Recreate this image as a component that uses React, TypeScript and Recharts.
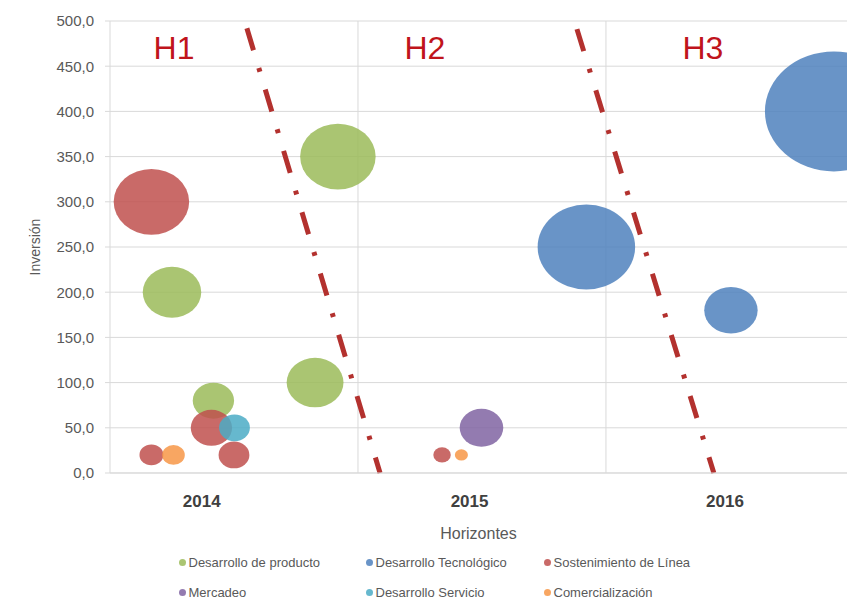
import React from 'react';
import {
  ScatterChart,
  Scatter,
  XAxis,
  YAxis,
  ZAxis,
  CartesianGrid,
  ReferenceLine,
  ReferenceDot,
  Legend,
} from 'recharts';

const FONT = '"Liberation Sans", Arial, sans-serif';

// ---- data ----
const yearLabels = ['2014', '2015', '2016'];
const yearTickPositions = [0.37, 1.45, 2.48];
const horizonBoundaries = [1, 2];
const horizonLabels = ['H1', 'H2', 'H3'];
const horizonLabelX = [0.258, 1.27, 2.391];
const horizonLabelY = 471;
const yTicks = [0, 50, 100, 150, 200, 250, 300, 350, 400, 450, 500];

const desarrolloProducto = [
  { x: 0.25, y: 200, z: 18 },
  { x: 0.417, y: 80, z: 9 },
  { x: 0.827, y: 100, z: 17 },
  { x: 0.919, y: 350, z: 30 },
];
const desarrolloTecnologico = [
  { x: 1.921, y: 250, z: 50 },
  { x: 2.504, y: 180, z: 15 },
  { x: 2.919, y: 400, z: 100 },
];
const sostenimientoLinea = [
  { x: 0.167, y: 300, z: 30 },
  { x: 0.167, y: 20, z: 3 },
  { x: 0.409, y: 50, z: 9 },
  { x: 0.5, y: 20, z: 5 },
  { x: 1.339, y: 20, z: 1.6 },
];
const mercadeo = [{ x: 1.498, y: 50, z: 10 }];
const desarrolloServicio = [{ x: 0.502, y: 50, z: 5 }];
const comercializacion = [
  { x: 0.256, y: 20, z: 2.7 },
  { x: 1.417, y: 20, z: 0.9 },
];

const dividerLines = [
  [{ x: 0.552, y: 492 }, { x: 1.089, y: 0 }],
  [{ x: 1.883, y: 491 }, { x: 2.435, y: 0 }],
];

const series = [
  { name: 'Desarrollo de producto', color: '#9BBB59', data: desarrolloProducto },
  { name: 'Desarrollo Tecnológico', color: '#4F81BD', data: desarrolloTecnologico },
  { name: 'Sostenimiento de Línea', color: '#C0504D', data: sostenimientoLinea },
  { name: 'Mercadeo', color: '#8064A2', data: mercadeo },
  { name: 'Desarrollo Servicio', color: '#4BACC6', data: desarrolloServicio },
  { name: 'Comercialización', color: '#F79646', data: comercializacion },
];

// ---- styling ----
const STRETCH = 1.072;
const MAX_R = 64.3;
const legendColumnX = [182, 369, 547];

const makeBubble = (color: string) => (props: any) => {
  const { cx, cy } = props;
  const r =
    typeof props.width === 'number' && props.width > 0
      ? props.width / 2
      : Math.sqrt(Math.max(props.size || 0, 0) / Math.PI);
  return (
    <ellipse
      cx={cx}
      cy={cy}
      rx={r * STRETCH}
      ry={r / STRETCH}
      fill={color}
      fillOpacity={0.85}
    />
  );
};

const YTitle = (props: any) => {
  const vb = props.viewBox || {};
  const x = 35;
  const y = vb.height ? vb.y + vb.height / 2 : 247;
  return (
    <text
      x={x}
      y={y}
      transform={`rotate(-90, ${x}, ${y})`}
      textAnchor="middle"
      dominantBaseline="central"
      fill="#595959"
      fontSize={14}
      fontFamily={FONT}
    >
      Inversión
    </text>
  );
};

const LegendContent = () => (
  <div
    style={{
      position: 'relative',
      width: 847,
      height: 60,
      fontFamily: FONT,
      fontSize: 13,
      color: '#595959',
    }}
  >
    {series.map((s, i) => (
      <div
        key={s.name}
        style={{
          position: 'absolute',
          left: legendColumnX[i % 3] - 3.5,
          top: Math.floor(i / 3) * 30,
          height: 16,
          display: 'flex',
          alignItems: 'center',
          whiteSpace: 'nowrap',
        }}
      >
        <span
          style={{
            display: 'inline-block',
            width: 7,
            height: 7,
            borderRadius: '50%',
            background: s.color,
            opacity: 0.85,
            marginRight: 3,
          }}
        />
        {s.name}
      </div>
    ))}
  </div>
);

export default function App() {
  return (
    <div
      style={{
        position: 'absolute',
        left: 0,
        top: 0,
        width: 847,
        height: 599,
        background: '#ffffff',
      }}
    >
      <ScatterChart
        width={847}
        height={599}
        margin={{ top: 21, right: 0, bottom: 86, left: 0 }}
      >
        <CartesianGrid vertical={false} stroke="#D9D9D9" />
        <XAxis
          type="number"
          dataKey="x"
          domain={[0, 2.972]}
          ticks={yearTickPositions}
          tickFormatter={(_v: number, i: number) => yearLabels[i]}
          height={40}
          tickLine={false}
          tickMargin={16}
          axisLine={{ stroke: '#D9D9D9' }}
          tick={{ fill: '#404040', fontSize: 17, fontWeight: 'bold', fontFamily: FONT }}
          label={{
            value: 'Horizontes',
            position: 'bottom',
            offset: 15,
            fill: '#595959',
            fontSize: 16,
            fontFamily: FONT,
          }}
        />
        <YAxis
          type="number"
          dataKey="y"
          domain={[0, 500]}
          ticks={yTicks}
          width={110}
          tickSize={5}
          tickMargin={11}
          axisLine={{ stroke: '#D9D9D9' }}
          tickLine={{ stroke: '#D9D9D9' }}
          tick={{ fill: '#595959', fontSize: 15, fontFamily: FONT }}
          tickFormatter={(v: number) => v.toFixed(1).replace('.', ',')}
          label={<YTitle />}
        />
        <ZAxis type="number" dataKey="z" domain={[0, 100]} range={[0, Math.PI * MAX_R * MAX_R]} />
        {horizonBoundaries.map((b) => (
          <ReferenceLine key={`b${b}`} x={b} stroke="#D9D9D9" strokeWidth={1} />
        ))}
        {series.map((s) => (
          <Scatter
            key={s.name}
            name={s.name}
            data={s.data}
            fill={s.color}
            shape={makeBubble(s.color)}
            isAnimationActive={false}
          />
        ))}
        {dividerLines.map((seg, i) => (
          <ReferenceLine
            key={`d${i}`}
            segment={seg}
            stroke="#B3312E"
            strokeWidth={5}
            strokeDasharray="23 18.5 4 18.5"
          />
        ))}
        {horizonLabels.map((h, i) => (
          <ReferenceDot
            key={h}
            x={horizonLabelX[i]}
            y={horizonLabelY}
            r={0}
            fill="none"
            stroke="none"
            label={{
              value: h,
              position: 'center',
              fill: '#C0141C',
              fontSize: 32,
              fontFamily: FONT,
            }}
          />
        ))}
        <Legend
          layout="horizontal"
          verticalAlign="middle"
          align="center"
          wrapperStyle={{ left: 0, top: 554, width: 847 }}
          content={<LegendContent />}
        />
      </ScatterChart>
    </div>
  );
}
